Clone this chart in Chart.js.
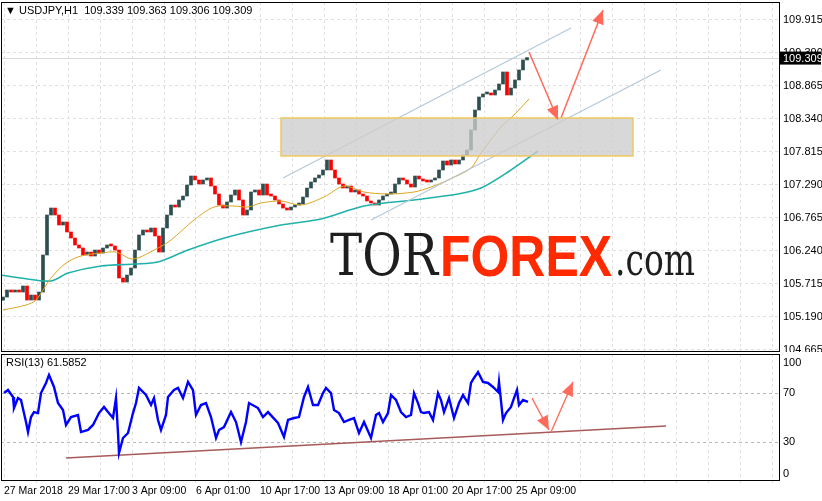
<!DOCTYPE html>
<html><head><meta charset="utf-8">
<script src="https://cdn.jsdelivr.net/npm/chart.js@4.4.1/dist/chart.umd.min.js"></script>
<style>
html,body{margin:0;padding:0;background:#fff;width:822px;height:501px;overflow:hidden}
#c1{position:absolute;left:0;top:0}
#c2{position:absolute;left:0;top:352px}
</style></head><body>
<canvas id="c1" width="822" height="352"></canvas>
<canvas id="c2" width="822" height="149"></canvas>
<script>
// ---- data (x in hours from chart start) ----
const firstOpen = 105.45;
const closes = [105.500,105.612,105.580,105.612,105.580,105.676,105.453,105.532,105.453,105.580,
106.169,106.805,106.916,106.805,106.646,106.694,106.535,106.439,106.328,106.280,
106.169,106.216,106.153,106.248,106.200,106.280,106.328,106.312,106.248,105.803,
105.739,105.850,105.962,106.248,106.487,106.566,106.535,106.598,106.471,106.216,
106.598,106.805,106.964,106.932,107.044,107.107,107.282,107.425,107.362,107.298,
107.362,107.394,107.266,107.139,106.964,106.916,107.012,107.123,107.203,107.044,
106.805,106.885,107.171,107.203,107.123,107.298,107.123,107.107,107.044,106.980,
106.916,106.885,106.932,106.964,106.980,107.091,107.234,107.330,107.394,107.441,
107.521,107.680,107.521,107.394,107.298,107.234,107.266,107.171,107.203,107.139,
107.107,107.028,106.996,106.964,107.044,107.107,107.139,107.155,107.298,107.394,
107.362,107.298,107.250,107.425,107.378,107.346,107.330,107.362,107.394,107.521,
107.664,107.600,107.680,107.616,107.680,107.760,107.839,108.157,108.475,108.682,
108.730,108.746,108.714,108.793,108.889,109.080,108.714,108.825,108.953,109.112,
109.271,109.309];
const maSlowX = [2,25,35,50,65,80,100,115,132,157,170,193,213,233,247,260,280,300,323,343,363,387,413,430,447,470,480,500,513,528];
const maSlowY = [105.294,105.373,105.453,105.803,106.041,106.153,106.200,106.216,106.105,106.280,106.407,106.725,106.932,106.948,106.932,106.996,107.028,106.964,107.091,107.266,107.171,107.139,107.171,107.250,107.362,107.553,107.791,108.205,108.396,108.650];
const maLongX = [0,20,50,67,100,133,157,187,227,280,320,363,413,457,480,507,537];
const maLongY = [105.851,105.803,105.755,105.882,105.994,106.025,106.057,106.248,106.455,106.646,106.741,106.948,107.044,107.139,107.234,107.489,107.823];
const rsiX = [3,7,12,13,17,20,25,27,30,33,37,40,45,48,53,57,62,65,70,77,80,87,92,98,103,107,112,115,117,118,122,127,132,135,138,145,150,153,157,160,165,167,173,177,182,187,192,195,200,205,210,215,218,223,230,235,240,245,248,257,262,267,277,283,287,293,298,303,307,312,317,322,325,330,333,338,343,348,353,358,363,370,375,378,382,387,390,395,400,405,410,413,417,420,423,428,432,437,440,443,448,453,458,462,467,470,473,477,482,487,492,497,498,502,505,510,513,516,518,522,527];
const rsiY = [70.2,72.7,67.0,57.9,66.1,64.5,46.4,38.2,50.5,54.6,53.8,70.2,78.5,85.1,75.2,62.0,56.3,44.0,50.5,52.2,38.2,39.9,44.0,53.8,58.8,54.6,49.7,66.1,37.4,20.9,33.3,37.4,53.8,62.0,74.4,68.6,60.4,66.1,48.1,39.9,52.2,67.0,72.7,74.4,66.1,79.4,72.7,52.2,60.4,62.0,50.5,33.3,39.9,42.3,54.6,46.4,30.0,46.4,62.0,57.9,50.5,54.6,45.6,34.1,48.1,49.7,50.5,67.0,75.2,60.4,60.4,70.2,74.4,70.2,56.3,53.8,46.4,48.1,49.7,37.4,46.4,33.3,52.2,53.8,46.4,53.8,68.6,64.5,54.6,50.5,52.2,70.2,62.0,54.6,53.8,54.6,48.1,70.2,64.5,54.6,66.1,49.7,62.0,68.6,62.0,78.5,82.6,87.5,79.4,78.5,75.2,71.1,79.4,48.1,53.8,58.8,66.1,72.7,60.4,64.5,62.9];
const priceTicks = [104.665,105.190,105.715,106.240,106.765,107.290,107.815,108.340,108.865,109.390,109.915];
const rsiTicks = [0,30,70,100];
const timeTickX = [3,67,131,195,259,323,387,451,515];
const timeLabels = ['27 Mar 2018','29 Mar 17:00','3 Apr 09:00','6 Apr 01:00','10 Apr 17:00','13 Apr 09:00','18 Apr 01:00','20 Apr 17:00','25 Apr 09:00'];
const channelUp = [[282,107.394],[570,109.780]];
const channelLow = [[370,106.725],[660,109.112]];
const zone = {x0:280,x1:632,y0:107.744,y1:108.348};
const arrowsMain = [[[528,109.398],[557,108.316]],[[560,108.348],[602,110.066]]];
const rsiTrend = [[65,16.9],[665,43.1]];
const arrowsRsi = [[[531,66.1],[548,39.9]],[[550,38.2],[572,79.4]]];
const lastPrice = 109.309;

const FONT = "'Liberation Sans', Arial, sans-serif";
const vgrid = [];
for (let v=3; v<778; v+=32) vgrid.push(v);

function xScale(showLabels){
  return {type:'linear', min:0, max:778, offset:false, position:'bottom',
    afterBuildTicks: s => { s.ticks = vgrid.map(v=>({value:v})); },
    afterFit: s => { s.height = showLabels ? 21 : 0; s.paddingLeft=0; s.paddingRight=0; },
    grid:{color:'#e0e0e0', drawTicks:showLabels, tickLength:3, offset:false}, border:{display:false, dash:[3,3]},
    ticks:{display:showLabels, autoSkip:false, maxRotation:0, align:'start', padding:2,
      font:{family:FONT,size:10.5}, color:'#000',
      callback: v => { const k=timeTickX.indexOf(v); return k>=0?timeLabels[k]:''; } }
  };
}
function yFit(s){ s.width=43; s.paddingTop=0; s.paddingBottom=0; }
function pts(xs,ys){ return xs.map((x,i)=>({x:x,y:ys[i]})); }
function seg(a){ return a.map(p=>({x:p[0],y:p[1]})); }

function arrowHead(ctx, chart, a, color){
  const xs=chart.scales.x, ys=chart.scales.y;
  const x0=xs.getPixelForValue(a[0][0]), y0=ys.getPixelForValue(a[0][1]);
  const x1=xs.getPixelForValue(a[1][0]), y1=ys.getPixelForValue(a[1][1]);
  const ang=Math.atan2(y1-y0,x1-x0), L=14, W=6;
  ctx.save(); ctx.fillStyle=color; ctx.beginPath();
  ctx.moveTo(x1,y1);
  ctx.lineTo(x1-L*Math.cos(ang)+W*Math.sin(ang), y1-L*Math.sin(ang)-W*Math.cos(ang));
  ctx.lineTo(x1-L*Math.cos(ang)-W*Math.sin(ang), y1-L*Math.sin(ang)+W*Math.cos(ang));
  ctx.closePath(); ctx.fill(); ctx.restore();
}
function fitText(c, txt, x, y, w, font, color){
  c.save(); c.font=font; c.fillStyle=color;
  const m=c.measureText(txt).width;
  c.translate(x,y); c.scale(w/m,1); c.fillText(txt,0,0); c.restore();
}

const mainPlugin = {
  id:'mainDeco',
  beforeDatasetsDraw(chart){
    const c=chart.ctx, a=chart.chartArea, ys=chart.scales.y;
    c.save(); c.textBaseline='alphabetic';
    fitText(c,'TOR',330,275,108,"58px 'DejaVu Serif', serif",'#1e1e1e');
    fitText(c,'FOREX',440,276,172,"bold 58px 'Liberation Sans', sans-serif",'#ff2a00');
    fitText(c,'.com',615,275,80,"44px 'DejaVu Serif', serif",'#1e1e1e');
    c.restore();
    const py=ys.getPixelForValue(lastPrice);
    c.save(); c.strokeStyle='#d8d8d8'; c.lineWidth=1; c.beginPath();
    c.moveTo(a.left,Math.round(py)+0.5); c.lineTo(a.right,Math.round(py)+0.5); c.stroke(); c.restore();
  },
  afterDatasetsDraw(chart){
    const c=chart.ctx, a=chart.chartArea, xs=chart.scales.x, ys=chart.scales.y;
    const rx0=xs.getPixelForValue(zone.x0), rx1=xs.getPixelForValue(zone.x1);
    const ry0=ys.getPixelForValue(zone.y1), ry1=ys.getPixelForValue(zone.y0);
    c.save(); c.fillStyle='rgba(205,205,205,0.78)'; c.fillRect(rx0,ry0,rx1-rx0,ry1-ry0);
    c.strokeStyle='#f0c860'; c.lineWidth=1.5; c.strokeRect(rx0,ry0,rx1-rx0,ry1-ry0); c.restore();
    arrowsMain.forEach(ar=>arrowHead(c,chart,ar,'#ff6a5a'));
    c.save(); c.strokeStyle='#000'; c.lineWidth=1;
    c.strokeRect(a.left+0.5,a.top+0.5,a.right-a.left,a.bottom-a.top);
    c.fillStyle='#000'; c.font="11px "+FONT; c.textBaseline='middle';
    c.fillText('▼ USDJPY,H1  109.339 109.363 109.306 109.309',5,11);
    const py=ys.getPixelForValue(lastPrice);
    c.fillStyle='#000'; c.fillRect(a.right+1,py-6,41,13);
    c.fillStyle='#fff'; c.font="11px "+FONT; c.fillText('109.309',a.right+4,py+1);
    c.restore();
  }
};

new Chart(document.getElementById('c1'), {
  data:{datasets:[
    {type:'bar', data: closes.map((cl,i)=>({x:2+4*i, y:[i?closes[i-1]:firstOpen, cl]})),
     backgroundColor: ctx => { const r=ctx.raw; return (r && r.y[1]>=r.y[0]) ? '#2f4f4f' : '#ff0000'; },
     barThickness:3, minBarLength:2, order:3},
    {type:'line', data:pts(maSlowX,maSlowY), borderColor:'#daa520', borderWidth:1, pointRadius:0, tension:0.3, order:2},
    {type:'line', data:pts(maLongX,maLongY), borderColor:'#20b2aa', borderWidth:1.6, pointRadius:0, tension:0.3, order:2},
    {type:'line', data:seg(channelUp), borderColor:'#b4c8d8', borderWidth:1.2, pointRadius:0, order:1},
    {type:'line', data:seg(channelLow), borderColor:'#b4c8d8', borderWidth:1.2, pointRadius:0, order:1},
    {type:'line', data:seg(arrowsMain[0]), borderColor:'#ff6a5a', borderWidth:1.5, pointRadius:0, order:0},
    {type:'line', data:seg(arrowsMain[1]), borderColor:'#ff6a5a', borderWidth:1.5, pointRadius:0, order:0}
  ]},
  options:{responsive:false, animation:false, events:[],
    layout:{padding:{top:2,left:1,bottom:1,right:0}},
    plugins:{legend:{display:false}, tooltip:{enabled:false}},
    scales:{
      x: xScale(false),
      y:{type:'linear', position:'right', min:104.642, max:110.193,
        afterBuildTicks: s=>{ s.ticks = priceTicks.map(v=>({value:v})); },
        afterFit: yFit,
        grid:{color:'#e0e0e0', drawTicks:false}, border:{display:false, dash:[3,3]},
        ticks:{padding:4, font:{family:FONT,size:11}, color:'#000', callback:v=>v.toFixed(3)}
      }
    }
  },
  plugins:[mainPlugin]
});

const rsiLabelNudge = {0:-5, 30:0, 70:0, 100:6};
const rsiPlugin = {
  id:'rsiDeco',
  afterDatasetsDraw(chart){
    const c=chart.ctx, a=chart.chartArea, ys=chart.scales.y;
    arrowsRsi.forEach(ar=>arrowHead(c,chart,ar,'#ff6a5a'));
    c.save(); c.strokeStyle='#000'; c.lineWidth=1;
    c.strokeRect(a.left+0.5,a.top+0.5,a.right-a.left,a.bottom-a.top);
    c.fillStyle='#000'; c.font="11px "+FONT; c.textBaseline='middle';
    c.fillText('RSI(13) 61.5852',6,a.top+9);
    rsiTicks.forEach(v=>{ c.fillText(String(v), a.right+4, ys.getPixelForValue(v)+rsiLabelNudge[v]); });
    c.restore();
  }
};

new Chart(document.getElementById('c2'), {
  data:{datasets:[
    {type:'line', data:pts(rsiX,rsiY), borderColor:'#0000ff', borderWidth:2.4, pointRadius:0, order:1},
    {type:'line', data:seg(rsiTrend), borderColor:'#a85a5a', borderWidth:1.6, pointRadius:0, order:2},
    {type:'line', data:seg(arrowsRsi[0]), borderColor:'#ff6a5a', borderWidth:1.3, pointRadius:0, order:0},
    {type:'line', data:seg(arrowsRsi[1]), borderColor:'#ff6a5a', borderWidth:1.3, pointRadius:0, order:0}
  ]},
  options:{responsive:false, animation:false, events:[],
    layout:{padding:{top:2,left:1,bottom:0,right:0}},
    plugins:{legend:{display:false}, tooltip:{enabled:false}},
    scales:{
      x: xScale(true),
      y:{type:'linear', position:'right', min:-1.2, max:102.3,
        afterBuildTicks: s=>{ s.ticks = rsiTicks.map(v=>({value:v})); },
        afterFit: yFit,
        grid:{color: ctx => (ctx.tick && (ctx.tick.value===30||ctx.tick.value===70)) ? '#b8b8b8' : 'rgba(0,0,0,0)', drawTicks:false},
        border:{display:false, dash:[3,3]},
        ticks:{display:false}
      }
    }
  },
  plugins:[rsiPlugin]
});
</script>
</body></html>
